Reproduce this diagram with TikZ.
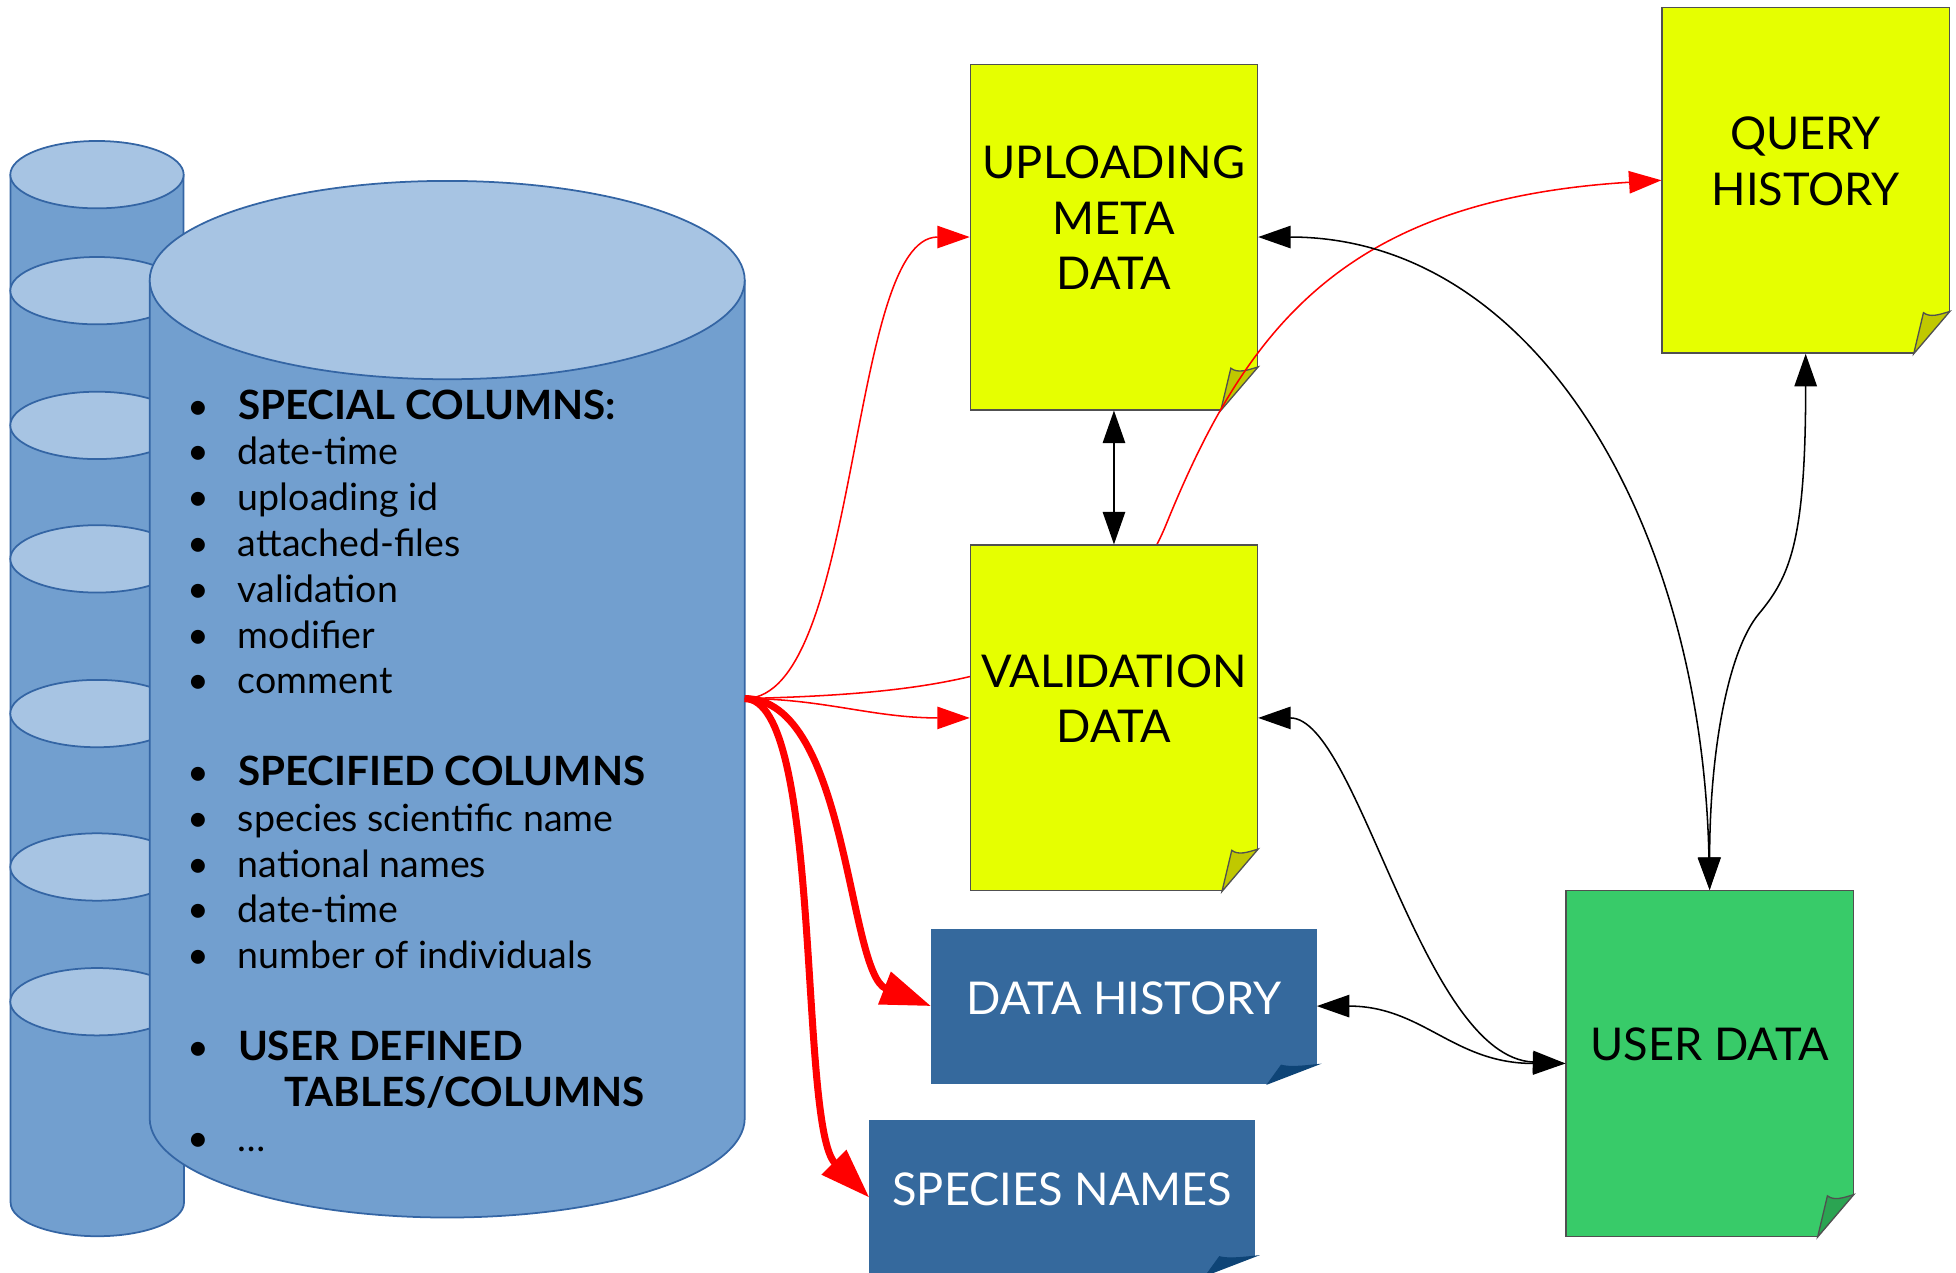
\documentclass[tikz,border=0pt]{standalone}
\usepackage{fontspec}
\setmainfont{Lato}
\usetikzlibrary{calc, arrows.meta}

\definecolor{cylbody}{HTML}{729FCF}
\definecolor{cyltop}{HTML}{A7C4E3}
\definecolor{cylline}{HTML}{3465A4}
\definecolor{notey}{HTML}{E6FF00}
\definecolor{foldy}{HTML}{C0C800}
\definecolor{noteb}{HTML}{35699D}
\definecolor{foldb}{HTML}{0E4476}
\definecolor{noteg}{HTML}{38CB69}
\definecolor{foldg}{HTML}{2BA452}
\definecolor{edgegray}{HTML}{505050}

\newcommand{\papercorner}[5]{%
    \fill[white] ($(#1.south east)+(-#2,0)$) -- ($(#1.south east)+(0,-#3)$)
        -- ($(#1.south east)+(2,-#3)$) -- ($(#1.south east)+(2,2)$)
        -- ($(#1.south east)+(-#2,2)$) -- cycle;
    \filldraw[fill=#4, draw=#5, line width=0.3pt] ($(#1.south east)+(-#2,0)$)
        -- ($(#1.south east)+(-0.73*#2,-0.97*#3)$)
        .. controls ($(#1.south east)+(-0.55*#2,-0.85*#3)$) and ($(#1.south east)+(-0.3*#2,-0.92*#3)$)
        .. ($(#1.south east)+(0,-#3)$) -- cycle;
}
\newcommand{\itm}{\makebox[11.4pt][l]{\textbullet}}
\newcommand{\hdr}[1]{{\fontsize{9.2}{10.44}\selectfont\bfseries #1}}

\tikzset{
    note/.style={align=center, inner sep=0pt, line width=0.3pt, font=\fontsize{10.3}{12.66}\selectfont},
    tallnote/.style={note, draw=edgegray, minimum width=2.3cm, minimum height=2.77cm, text depth=8.8pt},
    widenote/.style={note, fill=noteb, draw=noteb, text=white, minimum width=3.08cm, minimum height=1.23cm, text depth=3.8pt},
    redlink/.style={red, line width=0.35pt, ->},
    blacklink/.style={black, line width=0.35pt, <->},
    boldlink/.style={red, line width=1.6pt, -{Triangle[length=11.4pt, width=7.6pt]}},
    cylfill/.style={fill=cylbody},
    cyledge/.style={draw=cylline, line width=0.4pt}
}

\begin{document}
\begin{tikzpicture}[x=0.01cm, y=-0.01cm, >={Triangle[length=7.4pt, width=5.1pt]}]
        \useasboundingbox (0,0) rectangle (1568,1020);

        \fill[cylfill] (8.5,140) -- (8.5,964) arc[start angle=180, end angle=0, x radius=69.5, y radius=27] -- (147,140) -- cycle;
        \draw[cyledge] (8.5,140) -- (8.5,964) arc[start angle=180, end angle=0, x radius=69.5, y radius=27] -- (147,140);
        \foreach \y in {140,233,341,448,572,695,803}
            \draw[cyledge, fill=cyltop] (77.75,\y) ellipse[x radius=69.5, y radius=27];

        \fill[cylfill] (120,224.5) -- (120,896.5) arc[start angle=180, end angle=0, x radius=238.5, y radius=79.5] -- (597,224.5) -- cycle;
        \draw[cyledge] (120,224.5) -- (120,896.5) arc[start angle=180, end angle=0, x radius=238.5, y radius=79.5] -- (597,224.5);
        \draw[cyledge, fill=cyltop] (358.5,224.5) ellipse[x radius=238.5, y radius=79.5];

        \node[anchor=base west, inner sep=0pt, font=\fontsize{8.55}{10.44}\selectfont] (cols) at (150,336) {%
            \begin{tabular}[t]{@{}l@{}l@{}}
                \itm & \hdr{SPECIAL COLUMNS:}\\
                \itm & date-time\\
                \itm & uploading id\\
                \itm & attached-files\\
                \itm & validation\\
                \itm & modifier\\
                \itm & comment\\
                 & \\
                \itm & \hdr{SPECIFIED COLUMNS}\\
                \itm & species scientific name\\
                \itm & national names\\
                \itm & date-time\\
                \itm & number of individuals\\
                 & \\
                \itm & \hdr{USER DEFINED}\\
                 & \hspace{10.5pt}\hdr{TABLES/COLUMNS}\\
                \itm & \dots
            \end{tabular}};
        \coordinate (src) at (597,560);

        \node[tallnote, fill=notey] (umd) at (893,190) {UPLOADING\\META\\DATA};
        \papercorner{umd}{30}{35}{foldy}{edgegray}
        \node[tallnote, fill=notey] (qh) at (1447.5,144.5) {QUERY\\HISTORY};
        \papercorner{qh}{29}{34}{foldy}{edgegray}

        \draw[redlink] (src) .. controls (760,556) and (886,540) .. (935,420)
            .. controls (1000,260) and (1080,160) .. (qh.west);

        \node[tallnote, fill=notey] (val) at (893,575.5) {VALIDATION\\DATA};
        \papercorner{val}{29}{34}{foldy}{edgegray}
        \node[widenote] (dh) at (901,806.5) {DATA HISTORY};
        \papercorner{dh}{39}{15}{foldb}{foldb}
        \node[widenote] (sn) at (851.5,960) {SPECIES NAMES};
        \papercorner{sn}{39}{15}{foldb}{foldb}
        \node[tallnote, fill=noteg] (ud) at (1370.5,852.5) {USER DATA};
        \papercorner{ud}{29}{34}{foldg}{edgegray}
        \coordinate (qbend) at (1410,492);

        \draw[redlink] (src) .. controls +(93,0) and +(-98,0) .. (umd.west);
        \draw[redlink] (src) .. controls +(63,0) and +(-78,0) .. (val.west);
        \draw[boldlink] (src) .. controls +(83,0) and +(-67,-26) .. (dh.west);
        \draw[boldlink] (src) .. controls +(63,0) and +(-57,-57) .. (sn.west);

        \draw[blacklink] (umd.south) -- (val.north);
        \draw[blacklink] (umd.east) .. controls +(222,0) and +(-6,-294) .. (ud.north);
        \draw[blacklink] (qh.south) .. controls +(0,150) and +(25,-30) .. (qbend)
            .. controls +(-25,30) and +(0,-110) .. (ud.north);
        \draw[blacklink] (val.east) .. controls +(80,0) and +(-115,-5) .. (ud.west);
        \draw[blacklink] (dh.east) .. controls +(85,0) and +(-90,0) .. (ud.west);
    \end{tikzpicture}
\end{document}
